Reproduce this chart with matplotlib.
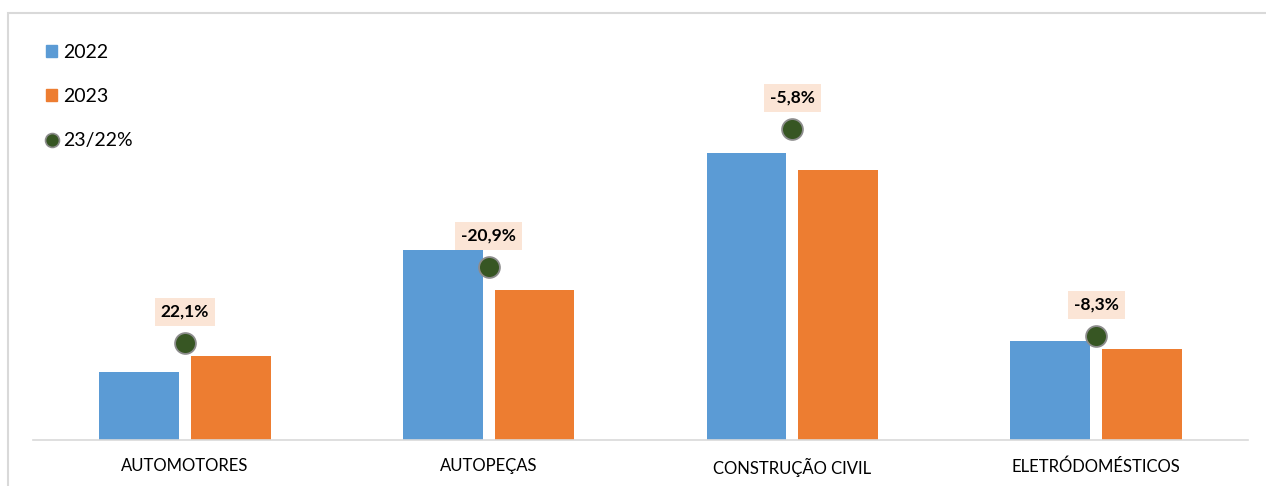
import matplotlib.pyplot as plt
import numpy as np
from matplotlib.patches import Rectangle
from matplotlib.lines import Line2D

plt.rcParams['font.family'] = ['Lato', 'DejaVu Sans']

categories = ['AUTOMOTORES', 'AUTOPEÇAS', 'CONSTRUÇÃO CIVIL', 'ELETRÓDOMÉSTICOS']
v2022 = [68, 190, 287, 99]
v2023 = [84, 150, 270, 91]
pct_labels = ['22,1%', '-20,9%', '-5,8%', '-8,3%']
dot_pos = [97, 173, 311, 104]

blue = '#5B9BD5'
orange = '#ED7D31'
green = '#375623'

fig = plt.figure(figsize=(12.66, 4.86), dpi=100)
ax = fig.add_axes([33/1266, 46/486, 1215/1266, 420/486])

x = np.arange(len(categories))
w = 0.263
off = 0.151
ax.bar(x - off, v2022, w, color=blue, label='2022')
ax.bar(x + off, v2023, w, color=orange, label='2023')
ax.scatter(x, dot_pos, s=225, color=green, edgecolor='#8C8C8C', linewidth=1.3, zorder=3, label='23/22%')

# percent labels above the dots
for xi, yi, t in zip(x, dot_pos, pct_labels):
    ax.annotate(t, (xi, yi), xytext=(0, 31), textcoords='offset pixels',
                ha='center', va='center', fontsize=12.5, fontweight='bold', color='black',
                bbox=dict(boxstyle='square,pad=0.35', facecolor='#FBE5D6', edgecolor='none'))

ax.set_xlim(-0.5, 3.5)
ax.set_ylim(0, 420)
ax.set_xticks(x)
ax.set_xticklabels(categories, fontsize=12)
ax.tick_params(axis='x', length=0, pad=13)
ax.set_yticks([])
for s in ['top', 'left', 'right']:
    ax.spines[s].set_visible(False)
ax.spines['bottom'].set_color('#D9D9D9')
ax.spines['bottom'].set_linewidth(1.2)

handles = [Rectangle((0, 0), 1, 1, color=blue), Rectangle((0, 0), 1, 1, color=orange),
           Line2D([], [], marker='o', linestyle='none', markersize=10, markerfacecolor=green,
                  markeredgecolor='#8C8C8C', markeredgewidth=1.2)]
fig.legend(handles, ['2022', '2023', '23/22%'], loc='upper left', bbox_to_anchor=(38/1266, 1 - 36/486),
           frameon=False, fontsize=14, handlelength=0.6, handleheight=0.6, handletextpad=0.3,
           labelspacing=1.4, borderaxespad=0)

# outer frame
fig.patches.append(Rectangle((8/1266, -0.1), 1.2, 1 - 13/486 + 0.1, transform=fig.transFigure,
                             fill=False, edgecolor='#D9D9D9', linewidth=1.5))

fig.savefig('out.png', dpi=100)
